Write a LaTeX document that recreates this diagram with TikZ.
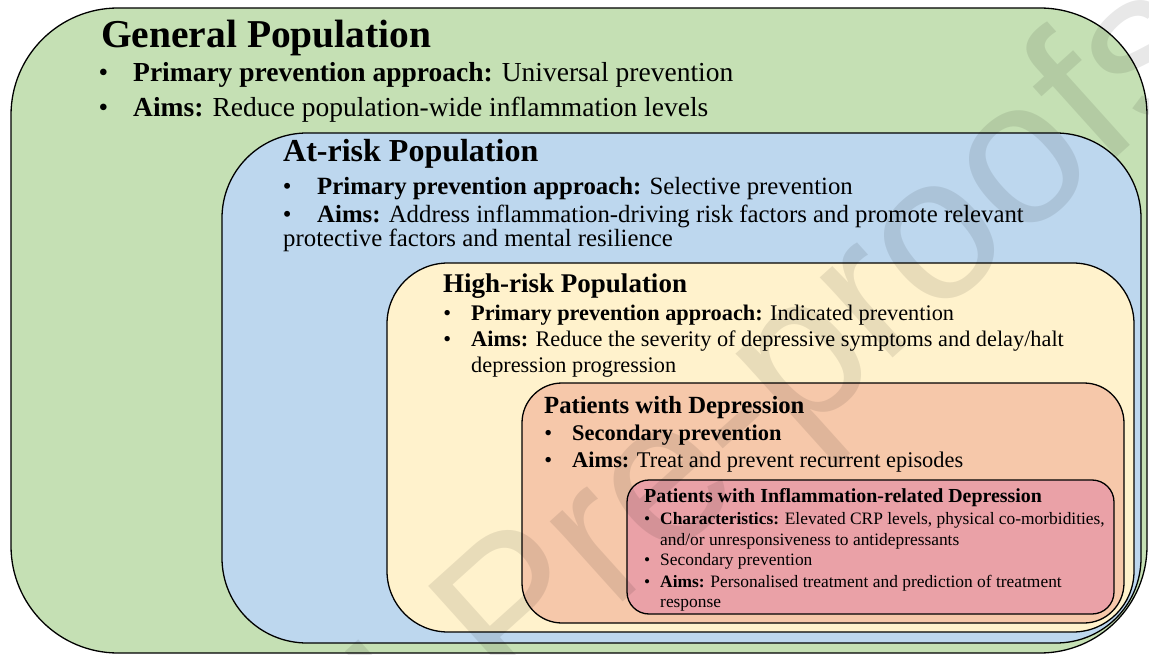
\documentclass[tikz,border=0pt]{standalone}
\usepackage{fontspec}
\setmainfont{Liberation Serif}
\newfontfamily\wmfont{Liberation Sans}
\usetikzlibrary{positioning}

\definecolor{genfill}{HTML}{C5E0B4}
\definecolor{riskfill}{HTML}{BDD7EE}
\definecolor{highfill}{HTML}{FFF2CC}
\definecolor{depfill}{HTML}{F6C8AA}
\definecolor{inffill}{HTML}{EAA1A7}

\newcommand\fsz[1]{\fontsize{#1}{#1}\selectfont}
\newcommand\blt[1]{\llap{\textbullet\hspace{#1pt}}}

\begin{document}
\begin{tikzpicture}[x=1pt, y=-1pt,
    box/.style={draw=black, line width=1.3pt},
    line/.style={anchor=base west, inner sep=0pt}]
    \useasboundingbox (0,0) rectangle (1149,655);

    % nested groups
    \draw[box, fill=genfill, rounded corners=107pt] (11,8) rectangle (1147,653);
    \draw[box, fill=riskfill, rounded corners=85pt] (222,133) rectangle (1141,643);
    \draw[box, fill=highfill, rounded corners=61pt] (387,263) rectangle (1134,632);
    \draw[box, fill=depfill, rounded corners=40pt] (522,383) rectangle (1124,623);
    \draw[box, fill=inffill, rounded corners=22pt] (627,480) rectangle (1114,614);

    % General Population
    \node[line, font=\fsz{39.5}\bfseries] (gentitle) at (101,48) {General Population};
    \node[line, font=\fsz{27.5}] (gen1) at (133,82) {\blt{25}\textbf{Primary prevention approach:} Universal prevention};
    \node[line, font=\fsz{27.5}] (gen2) at (133,117) {\blt{25}\textbf{Aims:} Reduce population-wide inflammation levels};

    % At-risk Population
    \node[line, font=\fsz{32}\bfseries] (risktitle) at (283,162) {At-risk Population};
    \node[line, font=\fsz{24.8}] (risk1) at (317,195) {\blt{25.7}\textbf{Primary prevention approach:} Selective prevention};
    \node[line, font=\fsz{24.8}] (risk2) at (317,223) {\blt{25.7}\textbf{Aims:} Address inflammation-driving risk factors and promote relevant};
    \node[line, font=\fsz{24.8}] (risk3) at (283,247) {protective factors and mental resilience};

    % High-risk Population
    \node[line, font=\fsz{27}\bfseries] (hightitle) at (443,292) {High-risk Population};
    \node[line, font=\fsz{22.3}] (high1) at (471,320) {\blt{20}\textbf{Primary prevention approach:} Indicated prevention};
    \node[line, font=\fsz{22.3}] (high2) at (471,346) {\blt{20}\textbf{Aims:} Reduce the severity of depressive symptoms and delay/halt};
    \node[line, font=\fsz{22.3}] (high3) at (471,372) {depression progression};

    % Patients with Depression
    \node[line, font=\fsz{24.7}\bfseries] (deptitle) at (544,413) {Patients with Depression};
    \node[line, font=\fsz{22.4}] (dep1) at (572,440) {\blt{20}\textbf{Secondary prevention}};
    \node[line, font=\fsz{22.4}] (dep2) at (572,467) {\blt{20}\textbf{Aims:} Treat and prevent recurrent episodes};

    % Patients with Inflammation-related Depression
    \node[line, font=\fsz{19.9}\bfseries] (inftitle) at (644,502) {Patients with Inflammation-related Depression};
    \node[line, font=\fsz{17.4}] (inf1) at (660,524) {\blt{10}\textbf{Characteristics:} Elevated CRP levels, physical co-morbidities,};
    \node[line, font=\fsz{17.4}] (inf2) at (660,545) {and/or unresponsiveness to antidepressants};
    \node[line, font=\fsz{17.4}] (inf3) at (660,565) {\blt{10}Secondary prevention};
    \node[line, font=\fsz{17.4}] (inf4) at (660,587) {\blt{10}\textbf{Aims:} Personalised treatment and prediction of treatment};
    \node[line, font=\fsz{17.4}] (inf5) at (660,607) {response};

    % watermark
    \node[anchor=base east, inner sep=0pt, rotate=42, text=black, text opacity=0.09, font=\wmfont\fsz{205}] (wmark) at (1222,62) {Journal Pre-proofs};
\end{tikzpicture}
\end{document}
